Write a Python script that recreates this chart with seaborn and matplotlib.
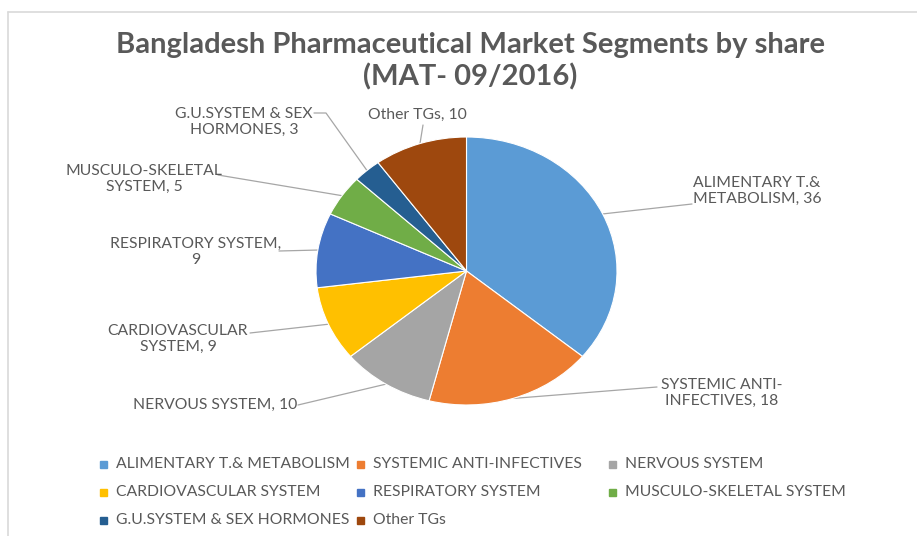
import numpy as np
import matplotlib
matplotlib.use("Agg")
import matplotlib.pyplot as plt
from matplotlib.patches import Rectangle
import seaborn as sns

# ---------------------------------------------------------------------------
# Data
# ---------------------------------------------------------------------------
SEGMENTS = [
    "ALIMENTARY T.& METABOLISM",
    "SYSTEMIC ANTI-INFECTIVES",
    "NERVOUS SYSTEM",
    "CARDIOVASCULAR SYSTEM",
    "RESPIRATORY SYSTEM",
    "MUSCULO-SKELETAL SYSTEM",
    "G.U.SYSTEM & SEX HORMONES",
    "Other TGs",
]
SHARES = [36, 18, 10, 9, 9, 5, 3, 10]
COLORS = ["#5B9BD5", "#ED7D31", "#A5A5A5", "#FFC000",
          "#4472C4", "#70AD47", "#255E91", "#9E480E"]

# callout label wording (line breaks as in the original)
LABEL_FMT = [
    "ALIMENTARY T.&\nMETABOLISM, {}",
    "SYSTEMIC ANTI-\nINFECTIVES, {}",
    "NERVOUS SYSTEM, {}",
    "CARDIOVASCULAR\nSYSTEM, {}",
    "RESPIRATORY SYSTEM,\n{}",
    "MUSCULO-SKELETAL\nSYSTEM, {}",
    "G.U.SYSTEM & SEX\nHORMONES, {}",
    "Other TGs, {}",
]

TITLE = "Bangladesh Pharmaceutical Market Segments by share\n(MAT- 09/2016)"

# ---------------------------------------------------------------------------
# Layout (pixel coordinates, origin top-left)
# ---------------------------------------------------------------------------
W, H = 917, 536
PIE_BOX = (316, 137, 617, 405)          # left, top, right, bottom
LABEL_POS = [(757, 191), (722, 393), (215, 405), (178, 339),
             (196, 252), (144, 179), (244, 122), (417, 115)]
LEADER_END = [[(692, 204)], [(657, 387)], [(298, 405)], [(250, 333)],
              [(279, 251)], [(218, 175)], [(314, 113), (326, 113)], [(423, 125)]]
LEGEND_ROWS_Y = [464, 492, 520]
LEGEND_COLS_X = [103, 360, 612]

TEXT_C = "#595959"
FONT = ["Lato", "DejaVu Sans"]

sns.set_theme(style="white")
plt.rcParams["font.family"] = FONT

fig = plt.figure(figsize=(W / 100, H / 100), dpi=100)
fig.patch.set_facecolor("white")

l, t, r, b = PIE_BOX
ax = fig.add_axes([l / W, 1 - b / H, (r - l) / W, (b - t) / H])
wedges, _ = ax.pie(SHARES, colors=COLORS, startangle=90, counterclock=False,
                   wedgeprops=dict(edgecolor="white", linewidth=0.8))
ax.set_aspect("auto")
ax.set_xlim(-1, 1)
ax.set_ylim(-1, 1)
ax.axis("off")

# overlay axes in pixel coordinates for labels, leaders, legend and frame
ov = fig.add_axes([0, 0, 1, 1], zorder=-1)
ov.set_xlim(0, W)
ov.set_ylim(H, 0)
ov.axis("off")
ov.patch.set_alpha(0)

# chart frame (top and left edges visible)
ov.plot([8, W], [12, 12], color="#d9d9d9", lw=1.2)
ov.plot([8, 8], [12, H], color="#d9d9d9", lw=1.2)

ov.text(470, 61, TITLE, ha="center", va="center", fontsize=21,
        fontweight="bold", color=TEXT_C, linespacing=1.25)

to_ov = ov.transData.inverted()
for w, fmt, val, pos, ends in zip(wedges, LABEL_FMT, SHARES, LABEL_POS, LEADER_END):
    mid = np.deg2rad((w.theta1 + w.theta2) / 2)
    disp = ax.transData.transform((np.cos(mid), np.sin(mid)))
    ax_px = to_ov.transform(disp)
    pts = [tuple(ax_px)] + list(reversed(ends))
    ov.plot([p[0] for p in pts], [p[1] for p in pts], color="#a6a6a6", lw=0.9)
    ov.text(pos[0], pos[1], fmt.format(val), ha="center", va="center",
            fontsize=11.3, color=TEXT_C, linespacing=1.25)

# legend, row-major like the original
for i, (name, col) in enumerate(zip(SEGMENTS, COLORS)):
    x = LEGEND_COLS_X[i % 3]
    y = LEGEND_ROWS_Y[i // 3]
    ov.add_patch(Rectangle((x - 3.5, y - 3.5), 7, 7, color=col))
    ov.text(x + 13, y, name, ha="left", va="center", fontsize=11.3, color=TEXT_C)

fig.savefig("out.png", dpi=100, facecolor="white")
